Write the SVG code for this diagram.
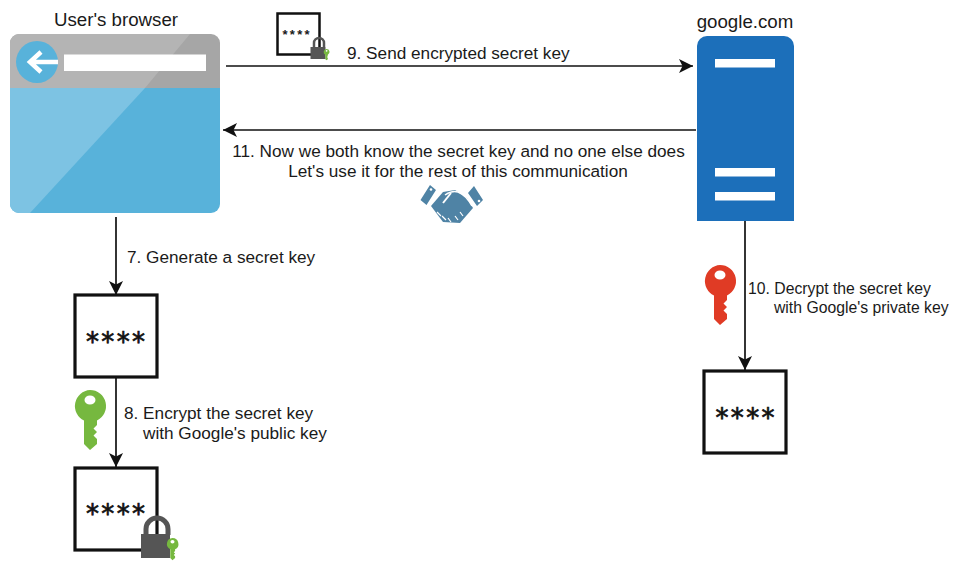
<svg xmlns="http://www.w3.org/2000/svg" width="960" height="573" viewBox="0 0 960 573">
<style>
text{font-family:"Liberation Sans",Arial,sans-serif;fill:#1a1a1a;font-size:15.75px}
.t{font-size:17.2px}
.h{font-size:18.7px}
.m{text-anchor:middle}
.c{fill:none;stroke:#111;stroke-width:1.7}
.box{fill:#fff;stroke:#111;stroke-width:3.2}
.st{font-size:26px;fill:#111;stroke:#111;stroke-width:.7;font-family:"DejaVu Sans",sans-serif;text-anchor:middle}
.w{fill:#fff}
.lock{fill:#555}
.shackle{fill:none;stroke:#555}
</style>
<defs>
<marker id="a" markerUnits="userSpaceOnUse" markerWidth="16" markerHeight="16" refX="14" refY="7" orient="auto"><path d="M0 0L14 7L0 14L3.5 7Z" fill="#111"/></marker>
<clipPath id="bc"><rect x="10" y="34" width="210" height="179" rx="9"/></clipPath>
<path id="key" d="M0-16A16 16 0 0 1 7 14.4L7 19L3.5 22.500L7 26L3.500 29.500L7 33L7 38L0 44L-6 38L-6 14.400A16 16 0 0 1 0-16ZM0-10.500A5.500 4.500 0 1 0 0-1.500A5.500 4.500 0 1 0 0-10.500Z" fill-rule="evenodd"/>
</defs>
<g id="connectors">
<path class="c" marker-end="url(#a)" d="M226 66H693"/>
<path class="c" marker-end="url(#a)" d="M696 130H223"/>
<path class="c" marker-end="url(#a)" d="M116 217V295"/>
<path class="c" marker-end="url(#a)" d="M116 378V467"/>
<path class="c" marker-end="url(#a)" d="M745 221V370"/>
</g>
<g id="browser">
<text class="h m" x="116" y="26">User's browser</text>
<g clip-path="url(#bc)">
<rect x="10" y="34" width="210" height="54" fill="#a6a6a6"/>
<rect x="10" y="88" width="210" height="125" fill="#58b2da"/>
<path d="M10 34H190L145 88H10Z" fill="#b4b4b4"/>
<path d="M10 88H145L30 213H10Z" fill="#7dc3e3"/>
</g>
<circle cx="37" cy="62" r="21" fill="#58b2da"/>
<path d="M58 62H31M41 52L30 62L41 72" fill="none" stroke="#fff" stroke-width="4.500"/>
<rect class="w" x="64" y="54.500" width="142" height="16.500"/>
</g>
<g id="server">
<text class="h m" x="745" y="28">google.com</text>
<path d="M697 221V46A10 10 0 0 1 707 36H784A10 10 0 0 1 794 46V221Z" fill="#1c6fba"/>
<rect class="w" x="715" y="59" width="60" height="8.500"/>
<rect class="w" x="715" y="168" width="60" height="8.500"/>
<rect class="w" x="715" y="192" width="60" height="8.500"/>
</g>
<g id="box-generated">
<rect class="box" x="75" y="295" width="82" height="82"/>
<text class="st" x="115.500" y="351" textLength="59">****</text>
</g>
<g id="box-encrypted">
<rect class="box" x="75" y="468" width="82" height="82"/>
<text class="st" x="115.500" y="523" textLength="59">****</text>
<path class="shackle" stroke-width="5" d="M146 535V529A11 11 0 0 1 168 529V535"/>
<rect class="lock" x="141" y="534" width="29" height="24"/>
<use href="#key" transform="translate(172.500 544) scale(.37)" fill="#76b83f"/>
</g>
<g id="box-decrypted">
<rect class="box" x="704" y="371" width="82" height="82"/>
<text class="st" x="745" y="427" textLength="59">****</text>
</g>
<g id="box-sent">
<rect x="277.500" y="13.500" width="42" height="41" fill="#fff" stroke="#111" stroke-width="2.500"/>
<text x="296" y="39" style="font-size:13px;font-weight:700;text-anchor:middle" textLength="27">****</text>
<path class="shackle" stroke-width="2.500" d="M314 47V43A5 5 0 0 1 324 43V47"/>
<rect class="lock" x="310.500" y="47" width="15" height="12"/>
<use href="#key" transform="translate(326.500 52) scale(.19)" fill="#76b83f"/>
</g>
<g id="green-key"><use href="#key" transform="translate(90 406)" fill="#76b83f"/></g>
<g id="red-key"><use href="#key" transform="translate(720 281)" fill="#e03b25"/></g>
<g id="handshake" fill="#4f83a5">
<path d="M420.500 200L430 185L436 190L426.500 205ZM468 193L474 186L483 200L477 206Z"/>
<path d="M431 206L443 192L455 190L467 198L473 208L460 223L443 222Z"/>
<path d="M445 195Q452 190 458 192Q466 195 472 206" fill="none" stroke="#fff" stroke-width="1.500"/>
<path d="M443 203L451 193" fill="none" stroke="#fff" stroke-width="2"/>
<path d="M437 212L441 216M442 216L446 220M448 218L451 222M455 216L458 220M460 212L463 216" fill="none" stroke="#fff" stroke-width="1.200"/>
<circle cx="431" cy="189.500" r="1.300" fill="#fff"/>
<circle cx="479" cy="201" r="1.300" fill="#fff"/>
</g>
<g id="labels">
<text class="t" x="347" y="59">9. Send encrypted secret key</text>
<text class="t m" x="458.500" y="157">11. Now we both know the secret key and no one else does</text>
<text class="t m" x="458" y="177">Let's use it for the rest of this communication</text>
<text class="t" x="127" y="263">7. Generate a secret key</text>
<text class="t" x="124" y="419">8. Encrypt the secret key</text>
<text class="t" x="143" y="439">with Google's public key</text>
<text x="748" y="294">10. Decrypt the secret key</text>
<text x="774" y="313">with Google's private key</text>
</g>
</svg>
